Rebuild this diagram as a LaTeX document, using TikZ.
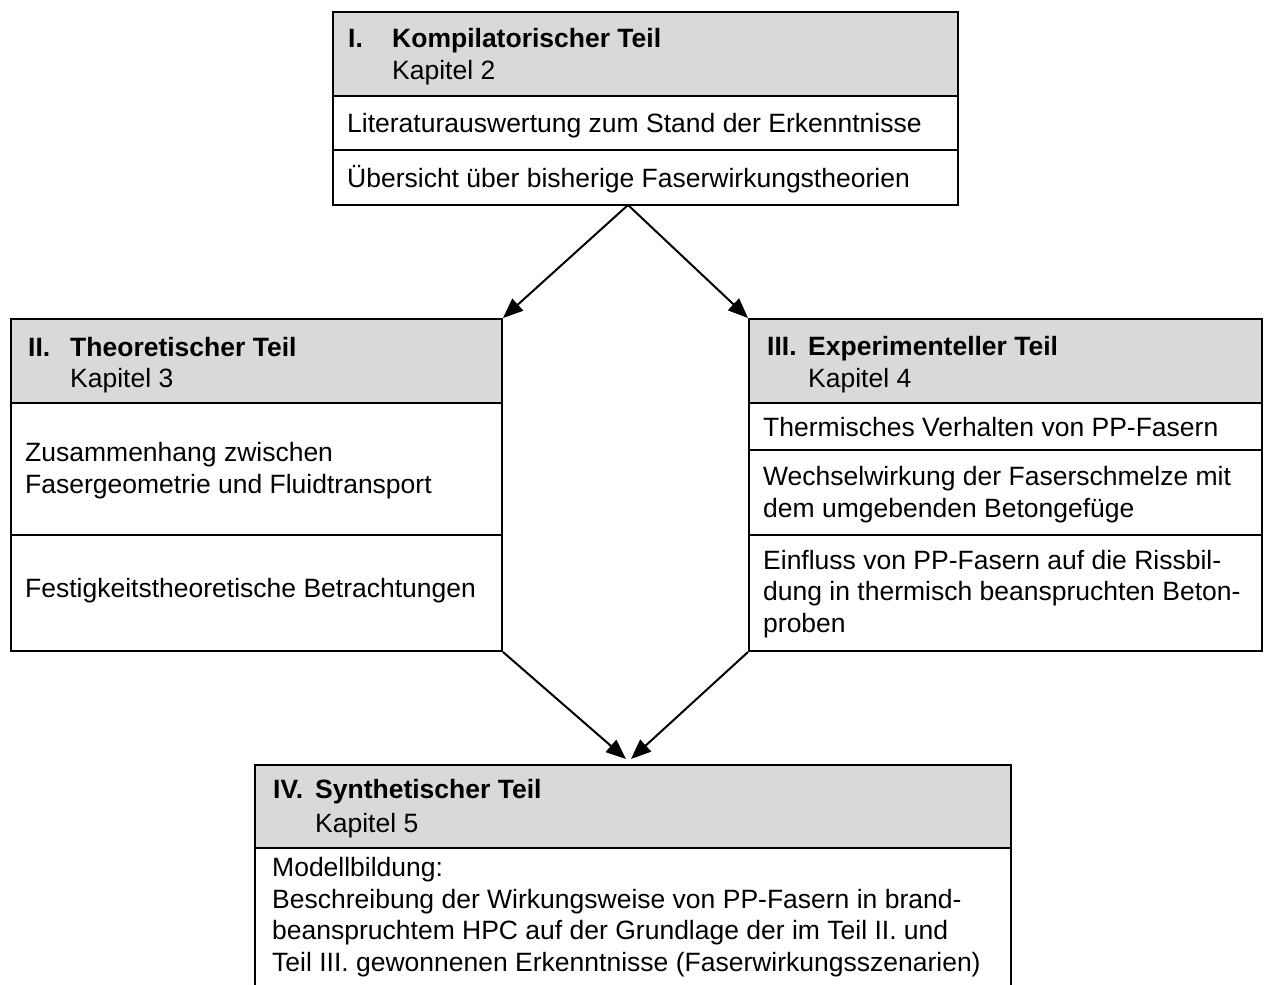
\documentclass[tikz,border=0pt]{standalone}
\usepackage{fontspec}
\setmainfont{Liberation Sans}
\usetikzlibrary{arrows.meta}
\definecolor{hdr}{HTML}{D9D9D9}
\begin{document}
\begin{tikzpicture}[x=1pt,y=-1pt,
  frame/.style={draw=black,line width=2pt},
  head/.style={fill=hdr},
  txt/.style={anchor=base west,inner sep=0pt,align=left,font=\fontsize{26.5}{31.5}\selectfont},
  btxt/.style={txt,font=\fontsize{26.5}{31.5}\selectfont\bfseries},
  arr/.style={line width=2pt,-{Triangle[length=20pt,width=16pt]}}]
\useasboundingbox (0,0) rectangle (1267,985);
% Box I
\fill[head] (332,11) rectangle (957,96);
\node[frame,anchor=north west,inner sep=0pt,minimum width=625pt,minimum height=193pt] (b1) at (332,11) {};
\draw[line width=2pt] (332,96) -- (957,96) (332,150) -- (957,150);
\node[btxt] (n1a) at (348,47) {I.};
\node[btxt] (n1b) at (392,47) {Kompilatorischer Teil};
\node[txt] (n1c) at (392,79) {Kapitel 2};
\node[txt] (n1d) at (347,132) {Literaturauswertung zum Stand der Erkenntnisse};
\node[txt] (n1e) at (347,187) {Übersicht über bisherige Faserwirkungstheorien};
% Box II
\fill[head] (10,318) rectangle (501,403);
\node[frame,anchor=north west,inner sep=0pt,minimum width=491pt,minimum height=332pt] (b2) at (10,318) {};
\draw[line width=2pt] (10,403) -- (501,403) (10,535) -- (501,535);
\node[btxt] (n2a) at (28,356) {II.};
\node[btxt] (n2b) at (70,356) {Theoretischer Teil};
\node[txt] (n2c) at (70,387) {Kapitel 3};
\node[txt] (n2d) at (25,493) {Zusammenhang zwischen\\Fasergeometrie und Fluidtransport};
\node[txt] (n2e) at (25,597) {Festigkeitstheoretische Betrachtungen};
% Box III
\fill[head] (748,318) rectangle (1261,403);
\node[frame,anchor=north west,inner sep=0pt,minimum width=513pt,minimum height=332pt] (b3) at (748,318) {};
\draw[line width=2pt] (748,403) -- (1261,403) (748,450) -- (1261,450) (748,535) -- (1261,535);
\node[btxt] (n3a) at (767,355) {III.};
\node[btxt] (n3b) at (808,355) {Experimenteller Teil};
\node[txt] (n3c) at (808,387) {Kapitel 4};
\node[txt] (n3d) at (763,436) {Thermisches Verhalten von PP-Fasern};
\node[txt] (n3e) at (763,517) {Wechselwirkung der Faserschmelze mit\\dem umgebenden Betongefüge};
\node[txt] (n3f) at (763,632) {Einfluss von PP-Fasern auf die Rissbil-\\dung in thermisch beanspruchten Beton-\\proben};
% Box IV
\fill[head] (255,765) rectangle (1011,848);
\draw[line width=2pt] (255,990) -- (255,765) -- (1011,765) -- (1011,990);
\draw[line width=2pt] (255,848) -- (1011,848);
\node[btxt] (n4a) at (273,798) {IV.};
\node[btxt] (n4b) at (315,798) {Synthetischer Teil};
\node[txt] (n4c) at (315,832) {Kapitel 5};
\node[txt] (n4d) at (272,971) {Modellbildung:\\Beschreibung der Wirkungsweise von PP-Fasern in brand-\\beanspruchtem HPC auf der Grundlage der im Teil II. und\\Teil III. gewonnenen Erkenntnisse (Faserwirkungsszenarien)};
% Arrows
\coordinate (apex) at (628,205);
\coordinate (l4) at (626,759);
\coordinate (r4) at (631,759);
\draw[arr] (apex) -- (b2.north east);
\draw[arr] (apex) -- (b3.north west);
\draw[arr] (b2.south east) -- (l4);
\draw[arr] (b3.south west) -- (r4);
\end{tikzpicture}
\end{document}
